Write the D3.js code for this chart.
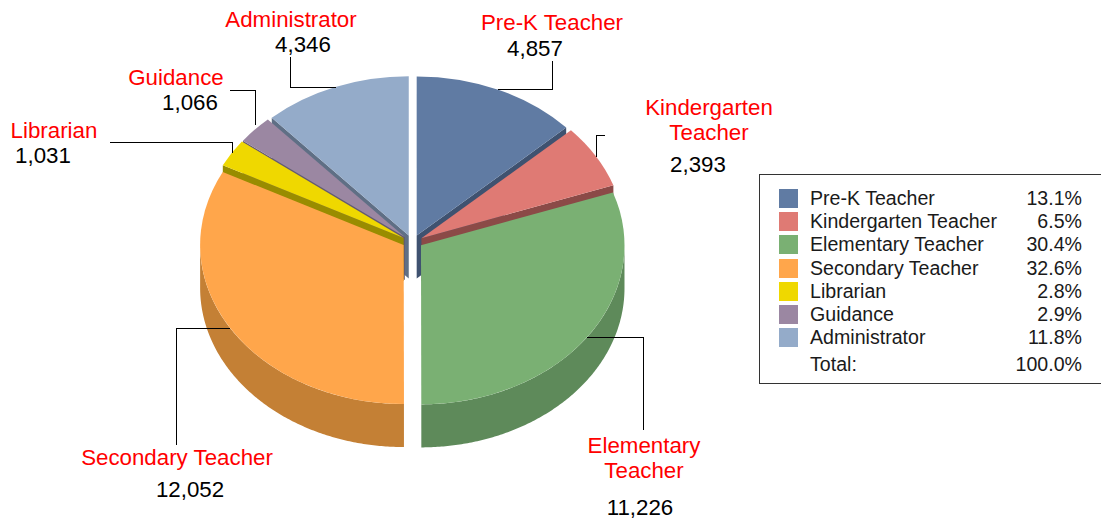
<!DOCTYPE html>
<html>
<head>
<meta charset="utf-8">
<script src="https://cdn.jsdelivr.net/npm/d3@7"></script>
<style>
    html, body { margin: 0; padding: 0; background: #fff; overflow: hidden; }
    text { font-family: "Liberation Sans", Arial, sans-serif; }
</style>
</head>
<body>
<div id="chart"></div>
<script>
// Chart values
const categories = ['Pre-K Teacher', 'Kindergarten Teacher', 'Elementary Teacher', 'Secondary Teacher', 'Librarian', 'Guidance', 'Administrator'];
const counts = [4857, 2393, 11226, 12052, 1031, 1066, 4346];
const calloutNames = [['Pre-K Teacher'], ['Kindergarten', 'Teacher'], ['Elementary', 'Teacher'], ['Secondary Teacher'], ['Librarian'], ['Guidance'], ['Administrator']];

// Styles, same order as categories
const topColors = ['#607ba3', '#df7a74', '#7ab073', '#ffa64b', '#efd800', '#9b87a2', '#94abc9'];
const sideColors = ['#3f5270', '#8b4a47', '#5e8a5a', '#c48035', '#998c00', '#655a70', '#5f6f85'];

// Callout layout: name centre x, name baselines, count centre x, count baseline, leader polyline
const calloutLayout = [
    { x: 552, ys: [30], vx: 535, vy: 56, leader: [[498, 89], [552, 89], [552, 61]] },
    { x: 709, ys: [115, 140], vx: 698, vy: 172, leader: [[596, 157], [596, 135], [605, 135]] },
    { x: 644, ys: [453, 478], vx: 640, vy: 515, leader: [[587, 337], [643, 337], [643, 430]] },
    { x: 177, ys: [465], vx: 190, vy: 497, leader: [[230, 328], [176, 328], [176, 445]] },
    { x: 54, ys: [138], vx: 43, vy: 163, leader: [[232, 153], [232, 142], [110, 142]] },
    { x: 176, ys: [85], vx: 190, vy: 110, leader: [[255, 125], [255, 90], [230, 90]] },
    { x: 291, ys: [27], vx: 303, vy: 52, leader: [[336, 87], [290, 87], [290, 57]] }
];

const width = 1101;
const height = 521;
const cx = 412.5;
const cy = 241.5;
const rx = 203.5;
const tilt = 0.782;
const depth = 43;
const explode = 10.4;
const explodeY = 6.5;
const calloutFont = 22.3;
const legendFont = 19.6;

const svg = d3.select('#chart').append('svg')
    .attr('width', width)
    .attr('height', height)
    .style('display', 'block');

const total = d3.sum(counts);
const slices = d3.pie().sort(null).value(d => d)(counts).map((s, i) => {
    const mid = (s.startAngle + s.endAngle) / 2;
    return { ...s, i, mid, ox: cx + explode * Math.sin(mid), oy: cy - explodeY * Math.cos(mid) };
});

// Back slices first, so that the front ones paint over them
const drawOrder = slices.slice().sort((a, b) => Math.cos(b.mid) - Math.cos(a.mid));

const topArc = d3.arc().innerRadius(0).outerRadius(rx);
const line = d3.line();
const rimPoint = (s, t, drop) => [s.ox + rx * Math.sin(t), s.oy - rx * tilt * Math.cos(t) + drop];

drawOrder.forEach(s => {
    const g = svg.append('g');

    // Cut face that turns toward the viewer
    const faceAngle = s.mid < Math.PI ? s.endAngle : s.startAngle;
    g.append('path')
        .attr('d', line([
            [s.ox, s.oy], rimPoint(s, faceAngle, 0),
            rimPoint(s, faceAngle, depth), [s.ox, s.oy + depth]
        ]) + 'Z')
        .attr('fill', sideColors[s.i]);

    // Outer wall, only the front half of the rim shows
    const from = Math.max(s.startAngle, Math.PI / 2);
    const to = Math.min(s.endAngle, Math.PI * 1.5);
    if (to > from) {
        const angles = d3.range(from, to, 0.01).concat(to);
        const upper = angles.map(t => rimPoint(s, t, 0));
        const lower = angles.slice().reverse().map(t => rimPoint(s, t, depth));
        g.append('path')
            .attr('d', line(upper.concat(lower)) + 'Z')
            .attr('fill', sideColors[s.i]);
    }

    g.append('path')
        .attr('d', topArc(s))
        .attr('transform', `translate(${s.ox},${s.oy}) scale(1,${tilt})`)
        .attr('fill', topColors[s.i]);
});

// Callouts
const countFormat = d3.format(',');
calloutLayout.forEach((c, i) => {
    svg.append('path')
        .attr('d', line(c.leader))
        .attr('fill', 'none')
        .attr('stroke', '#000')
        .attr('stroke-width', 1)
        .attr('shape-rendering', 'crispEdges');
    calloutNames[i].forEach((name, j) => {
        svg.append('text')
            .attr('x', c.x)
            .attr('y', c.ys[j])
            .attr('text-anchor', 'middle')
            .attr('font-size', calloutFont)
            .attr('fill', '#f00')
            .text(name);
    });
    svg.append('text')
        .attr('x', c.vx)
        .attr('y', c.vy)
        .attr('text-anchor', 'middle')
        .attr('font-size', calloutFont)
        .attr('fill', '#000')
        .text(countFormat(counts[i]));
});

// Legend, its right border runs off the picture
svg.append('rect')
    .attr('x', 759.5)
    .attr('y', 174.5)
    .attr('width', 360)
    .attr('height', 209)
    .attr('fill', '#fff')
    .attr('stroke', '#333');

const rowY = d3.scalePoint().domain(categories).range([189, 328]);
const percent = d3.format('.1%');
const legendText = '#1a1a1a';

categories.forEach((name, i) => {
    const y = rowY(name);
    svg.append('rect')
        .attr('x', 779)
        .attr('y', Math.round(y))
        .attr('width', 19)
        .attr('height', 19)
        .attr('fill', topColors[i]);
    svg.append('text')
        .attr('x', 810)
        .attr('y', y + 16)
        .attr('font-size', legendFont)
        .attr('fill', legendText)
        .text(name);
    svg.append('text')
        .attr('x', 1082)
        .attr('y', y + 16)
        .attr('text-anchor', 'end')
        .attr('font-size', legendFont)
        .attr('fill', legendText)
        .text(percent(counts[i] / total));
});

svg.append('text')
    .attr('x', 810)
    .attr('y', 371)
    .attr('font-size', legendFont)
    .attr('fill', legendText)
    .text('Total:');
svg.append('text')
    .attr('x', 1082)
    .attr('y', 371)
    .attr('text-anchor', 'end')
    .attr('font-size', legendFont)
    .attr('fill', legendText)
    .text(percent(1));
</script>
</body>
</html>
